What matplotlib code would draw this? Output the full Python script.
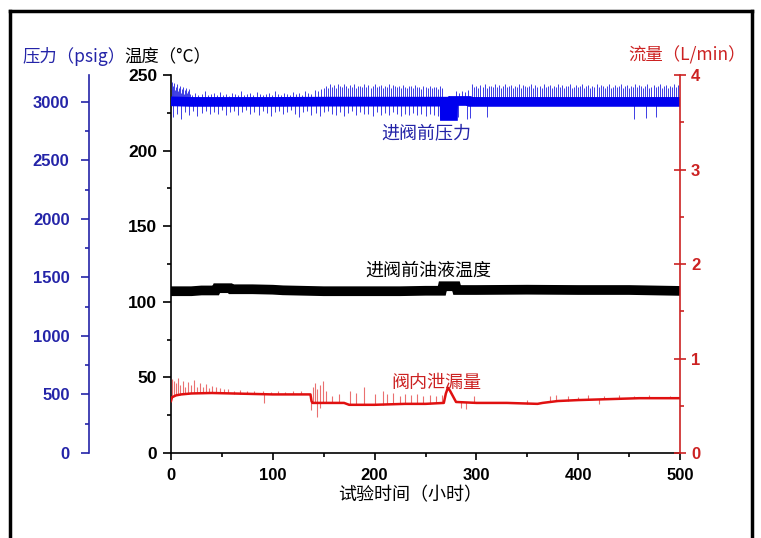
import numpy as np
import matplotlib
matplotlib.use('Agg')
import matplotlib.pyplot as plt
from matplotlib.lines import Line2D
from matplotlib.ticker import MultipleLocator

CJK = ['Noto Sans CJK SC', 'DejaVu Sans']
plt.rcParams['font.family'] = ['Liberation Sans', 'DejaVu Sans']

# 进阀前压力 (psig): band centre
p_t = [0, 20, 60, 100, 150, 200, 268.8, 269, 277, 277.2, 293, 294, 350, 400, 450, 500]
p_val = [3005, 3000, 3000, 3000, 3002, 3002, 3002, 2880, 2880, 3008, 3008, 3000, 3000, 3000, 3000, 3000]

# upward spikes (hours, psig)
p_up_t = ([0.5, 1, 1.5, 2, 3, 4, 5, 6, 7, 8, 9, 10, 11, 12, 13, 14, 15, 16, 17, 18, 19]
          + [21, 24, 27, 30, 33, 36, 39, 42, 45, 48, 51, 54, 57, 60, 63, 66, 69, 72, 75, 78,
             81, 84, 87, 90, 93, 96, 99, 102, 105, 108, 111, 114, 117, 120, 123, 126, 129,
             132, 135, 138, 141, 144, 147, 150]
          + list(range(152, 267, 2))
          + [280, 283, 286, 289, 292]
          + list(range(296, 501, 2)))
p_up_val = ([3120, 3170, 3110, 3140, 3160, 3100, 3130, 3150, 3090, 3120, 3140, 3080, 3110, 3130,
             3070, 3100, 3120, 3080, 3090, 3110, 3070]
            + [3060, 3080, 3055, 3070, 3090, 3060, 3065, 3075, 3055, 3085, 3060, 3070, 3050, 3080,
               3065, 3060, 3090, 3055, 3070, 3075, 3060, 3085, 3065, 3055, 3070, 3080, 3060, 3090,
               3065, 3055, 3075, 3070, 3060, 3085, 3065, 3075, 3060, 3090, 3080, 3070, 3100, 3090,
               3110, 3120]
            + [3140, 3120, 3150, 3130, 3145, 3115, 3150, 3135, 3125, 3150, 3140, 3120, 3145, 3130,
               3150, 3115, 3140, 3135, 3125, 3150, 3130, 3145, 3120, 3140, 3150, 3125, 3135, 3145,
               3115, 3140, 3130, 3150, 3120, 3145, 3135, 3125, 3140, 3115, 3145, 3130, 3120, 3140,
               3135, 3115, 3145, 3125, 3130, 3110, 3140, 3125, 3120, 3135, 3115, 3130, 3125, 3110,
               3135, 3120]
            + [3090, 3080, 3095, 3085, 3100]
            + [3150, 3125, 3140, 3115, 3145, 3130, 3150, 3120, 3140, 3135, 3125, 3150, 3130, 3145,
               3115, 3140, 3150, 3125, 3135, 3145, 3120, 3140, 3130, 3150, 3115, 3145, 3135, 3125,
               3140, 3150, 3120, 3145, 3130, 3140, 3115, 3150, 3125, 3135, 3145, 3120, 3140, 3130,
               3150, 3125, 3145, 3115, 3140, 3135, 3150, 3120, 3130, 3145, 3125, 3140, 3150, 3115,
               3135, 3145, 3120, 3140, 3130, 3150, 3125, 3145, 3135, 3115, 3140, 3150, 3120, 3130,
               3145, 3125, 3140, 3150, 3115, 3135, 3145, 3120, 3140, 3130, 3150, 3125, 3145, 3135,
               3115, 3140, 3150, 3120, 3130, 3145, 3125, 3140, 3150, 3115, 3135, 3145, 3120, 3140,
               3130, 3150, 3125, 3145, 3160])

# downward spikes (hours, psig)
p_dn_t = list(range(2, 267, 4)) + [282, 291, 294, 310, 455, 467, 476]
p_dn_val = ([2870, 2900, 2850, 2910, 2890, 2920, 2880, 2905, 2925, 2895, 2915, 2900, 2930, 2890,
             2910, 2920, 2885, 2915, 2930, 2900, 2910, 2890, 2925, 2905, 2880, 2915, 2920, 2895,
             2910, 2930, 2900, 2870, 2915, 2925, 2890, 2905, 2880, 2910, 2920, 2900, 2890, 2915,
             2880, 2905, 2920, 2885, 2910, 2895, 2900, 2880, 2915, 2890, 2905, 2885, 2910, 2895,
             2880, 2900, 2890, 2905, 2885, 2895, 2880, 2900, 2890, 2880, 2885]
            + [2870, 2850, 2860, 2870, 2850, 2860, 2870])

# 进阀前油液温度 (°C)
temp_t = [0, 20, 30, 44, 45, 58, 59, 80, 100, 110, 130, 150, 175, 200, 225, 250, 266, 267,
          280, 281, 300, 350, 400, 450, 500]
temp_val = [107.0, 107.0, 107.5, 107.5, 109.0, 109.0, 108.3, 108.3, 108.0, 107.6, 107.3, 107.0,
            107.0, 107.0, 107.0, 107.3, 107.3, 110.3, 110.3, 107.8, 107.8, 108.0, 107.8, 107.8, 107.2]

# 阀内泄漏量 (L/min)
flow_t = [0, 1, 5, 10, 20, 40, 60, 80, 100, 120, 137, 138, 139, 150, 170, 175, 200, 230, 250,
          268, 270, 272, 274, 276, 278, 280, 300, 330, 360, 365, 380, 400, 430, 460, 500]
flow_val = [0.55, 0.59, 0.61, 0.62, 0.63, 0.635, 0.63, 0.625, 0.62, 0.62, 0.62, 0.55, 0.53, 0.53,
            0.53, 0.51, 0.51, 0.52, 0.52, 0.53, 0.63, 0.69, 0.66, 0.62, 0.58, 0.54, 0.53, 0.53,
            0.52, 0.53, 0.55, 0.56, 0.57, 0.58, 0.58]
flow_up_t = [1, 3, 5, 7, 9, 12, 14, 17, 20, 23, 26, 28, 31, 34, 37, 40,
             44, 48, 52, 56, 62, 68, 75, 82, 90, 98, 105, 112, 120, 128,
             139, 141, 143, 146, 149, 152, 158, 165, 176, 182, 190, 200, 208, 212, 218, 225,
             230, 236, 242, 248, 254, 260, 266,
             298, 350, 372, 378, 390, 400, 410, 425, 440, 455, 470, 490]
flow_up_val = [0.78, 0.76, 0.74, 0.79, 0.72, 0.76, 0.70, 0.75, 0.72, 0.77, 0.70, 0.74, 0.70, 0.73, 0.69, 0.71,
               0.70, 0.69, 0.68, 0.68, 0.66, 0.67, 0.66, 0.66, 0.66, 0.65, 0.66, 0.65, 0.66, 0.66,
               0.70, 0.74, 0.68, 0.72, 0.76, 0.66, 0.60, 0.62, 0.66, 0.64, 0.70, 0.62, 0.66, 0.62, 0.64, 0.60,
               0.62, 0.61, 0.62, 0.60, 0.61, 0.60, 0.61,
               0.60, 0.56, 0.60, 0.61, 0.60, 0.59, 0.61, 0.60, 0.61, 0.60, 0.61, 0.60]
flow_dn_t = [91, 138, 143, 146, 285, 290, 420]
flow_dn_val = [0.53, 0.45, 0.38, 0.48, 0.48, 0.47, 0.52]

BLUE = '#0000ee'
BLUE_AX = '#2424a8'
RED = '#e01010'
RED_AX = '#cc2222'

W, H = 761, 538
fig = plt.figure(figsize=(W / 100, H / 100), dpi=100)
ax = fig.add_axes([171 / W, 1 - 453 / H, 509 / W, 378 / H])
axp = ax.twinx()
axf = ax.twinx()

# temperature
ax.plot(temp_t, temp_val, color='black', lw=7, solid_capstyle='butt',
        solid_joinstyle='miter', zorder=3)
ax.set_xlim(0, 500)
ax.set_ylim(0, 250)

# pressure
base = np.interp(p_up_t, p_t, p_val)
axp.vlines(p_up_t, base, p_up_val, color='#3c3ce4', lw=0.7)
base = np.interp(p_dn_t, p_t, p_val)
axp.vlines(p_dn_t, p_dn_val, base, color='#3c3ce4', lw=0.7)
axp.plot(p_t, p_val, color=BLUE, lw=7, solid_capstyle='butt', solid_joinstyle='miter')
axp.set_ylim(0, 3230)

# flow
base = np.interp(flow_up_t, flow_t, flow_val)
axf.vlines(flow_up_t, base, flow_up_val, color='#ea7070', lw=0.8)
base = np.interp(flow_dn_t, flow_t, flow_val)
axf.vlines(flow_dn_t, flow_dn_val, base, color='#ea7070', lw=0.8)
axf.plot(flow_t, flow_val, color=RED, lw=1.8)
axf.set_ylim(0, 4)

# spines
for s in ['top', 'right']:
    ax.spines[s].set_visible(False)
for s in ['top', 'right', 'bottom']:
    axp.spines[s].set_visible(False)
axp.spines['left'].set_visible(True)
axp.spines['left'].set_position(('axes', -82 / 509))
axp.spines['left'].set_color(BLUE_AX)
axp.yaxis.set_label_position('left')
axp.yaxis.set_ticks_position('left')
for s in ['top', 'left', 'bottom']:
    axf.spines[s].set_visible(False)
axf.spines['right'].set_color(RED_AX)
for a in (ax, axp, axf):
    for sp in a.spines.values():
        sp.set_linewidth(1.2)

ax.xaxis.set_major_locator(MultipleLocator(100))
ax.xaxis.set_minor_locator(MultipleLocator(50))
ax.yaxis.set_major_locator(MultipleLocator(50))
ax.yaxis.set_minor_locator(MultipleLocator(25))
axp.yaxis.set_major_locator(MultipleLocator(500))
axp.yaxis.set_minor_locator(MultipleLocator(250))
axf.yaxis.set_major_locator(MultipleLocator(1))
axf.yaxis.set_minor_locator(MultipleLocator(0.5))

ax.tick_params(axis='x', direction='out', length=5, width=1.2, pad=6, labelsize=12)
ax.tick_params(axis='x', which='minor', direction='out', length=3, width=1.2)
ax.tick_params(axis='y', direction='out', length=6, width=1.2, pad=4, labelsize=12.5)
ax.tick_params(axis='y', which='minor', direction='out', length=3, width=1.2)
axp.tick_params(axis='y', direction='out', length=6, width=1.2, pad=8, labelsize=12,
                colors=BLUE_AX)
axp.tick_params(axis='y', which='minor', direction='out', length=3, width=1.2, colors=BLUE_AX)
axf.tick_params(axis='y', direction='inout', length=8, width=1.2, pad=4, labelsize=12,
                colors=RED_AX)
axf.tick_params(axis='y', which='minor', direction='out', length=3, width=1.2, colors=RED_AX)
for a in (ax, axp, axf):
    for lab in a.get_xticklabels() + a.get_yticklabels():
        lab.set_fontweight('bold')


def fx(x):
    return x / W


def fy(y):
    return 1 - y / H


fig.text(fx(22), fy(57), '压力（psig）', color=BLUE_AX, fontsize=12.5, family=CJK,
         va='center', ha='left')
fig.text(fx(124), fy(57), '温度（°C）', color='black', fontsize=12.5, family=CJK,
         va='center', ha='left')
fig.text(fx(628), fy(55), '流量（L/min）', color=RED_AX, fontsize=12.5, family=CJK,
         va='center', ha='left')
fig.text(fx(426), fy(133), '进阀前压力', color=BLUE_AX, fontsize=13, family=CJK,
         va='center', ha='center')
fig.text(fx(428), fy(271), '进阀前油液温度', color='black', fontsize=13, family=CJK,
         va='center', ha='center')
fig.text(fx(436), fy(383), '阀内泄漏量', color=RED_AX, fontsize=13, family=CJK,
         va='center', ha='center')
fig.text(fx(410), fy(495), '试验时间（小时）', color='black', fontsize=13, family=CJK,
         va='center', ha='center')

# frame
for xs, ys in [([10, 10], [11, 538]), ([10, 752], [11, 11]), ([752, 752], [11, 538])]:
    fig.add_artist(Line2D([fx(v) for v in xs], [fy(v) for v in ys], color='black',
                          lw=2.5, transform=fig.transFigure))

fig.savefig('out.png', dpi=100)
